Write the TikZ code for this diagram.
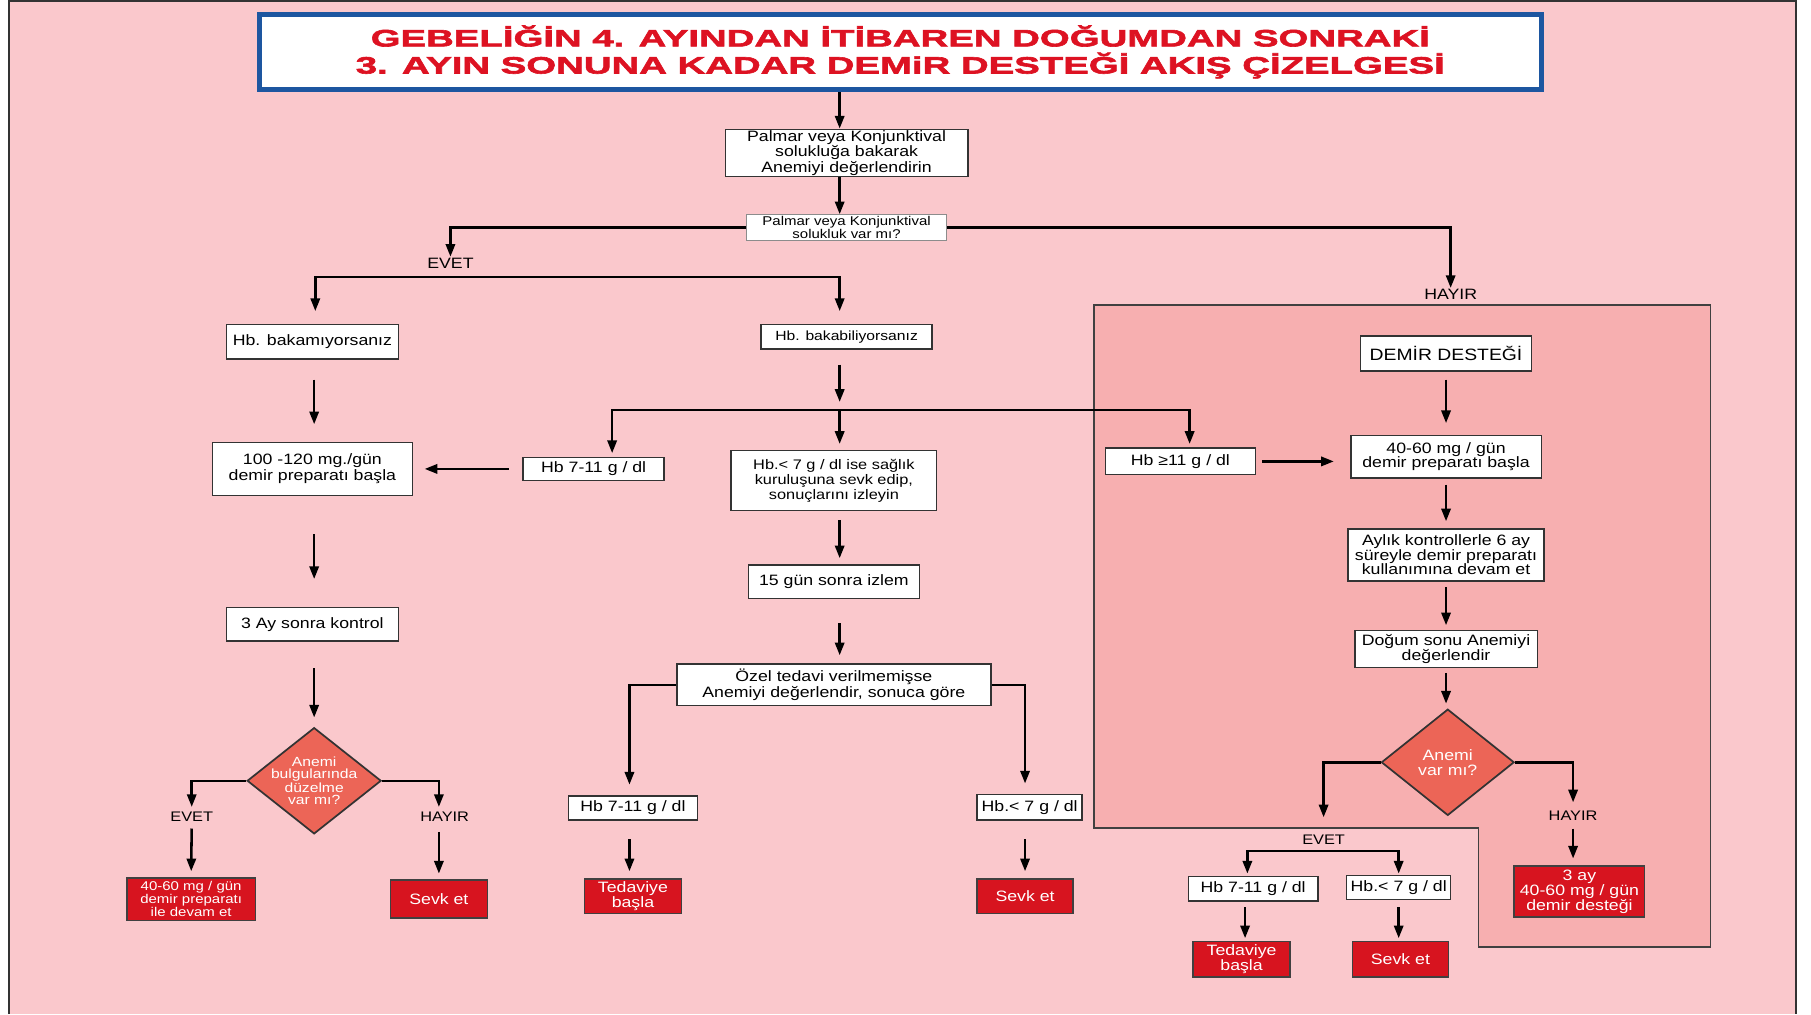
\documentclass[tikz,border=0pt]{standalone}
\usepackage{fontspec}
\setmainfont[FakeStretch=1.18]{Liberation Sans}
\newfontfamily\titlefont[FakeStretch=1.62,FakeBold=2.5]{Liberation Sans Bold}
\usetikzlibrary{positioning,shapes.geometric,arrows.meta}
\definecolor{bgpink}{HTML}{FAC8CC}
\definecolor{zonepink}{HTML}{F7AFB0}
\definecolor{sevkred}{HTML}{D7141F}
\definecolor{askred}{HTML}{EC6557}
\definecolor{titlered}{HTML}{DD1222}
\definecolor{titleblue}{HTML}{1D56A0}
\definecolor{linegray}{HTML}{333333}
\newcommand{\fsz}[2]{\fontsize{#1}{#2}\selectfont}

\begin{document}
\begin{tikzpicture}[x=1pt,y=-1pt,
    >={Triangle[length=11pt,width=8pt]},
    conn/.style={line width=2.2pt,draw=black},
    box/.style={rectangle,draw=linegray,line width=1.3pt,fill=white,align=center,inner sep=1pt,font=\fsz{13}{12.5}},
    redbox/.style={rectangle,draw=black!75,line width=1.3pt,fill=sevkred,text=white,align=center,inner sep=1pt,font=\fsz{13}{12}},
    ask/.style={diamond,aspect=1.25,draw=black!80,line width=1.5pt,fill=askred,text=white,align=center,inner sep=-4pt},
    lbl/.style={font=\fsz{12}{12},inner sep=1pt},
    sz/.style 2 args={minimum width=#1,minimum height=#2}]
   \useasboundingbox (0,0) rectangle (1568,878);
   \fill[white] (0,0) rectangle (1568,878);
   \fill[bgpink] (8,0) rectangle (1555,878);
   \draw[line width=1.5pt,draw=black!80] (8,878) -- (8,0.8) -- (1555,0.8) -- (1555,878);
   \filldraw[fill=zonepink,draw=black!75,line width=1.3pt] (947,264) -- (1481,264) -- (1481,820)
     -- (1280,820) -- (1280,717) -- (947,717) -- cycle;

   \node[rectangle,draw=titleblue,line width=4.5pt,fill=white,sz={1110pt}{65pt},align=center,
     text=titlered,font=\titlefont\fsz{20.5}{23.5}] (title) at (779.5,45)
     {GEBELİĞİN 4. AYINDAN İTİBAREN DOĞUMDAN SONRAKİ\\3. AYIN SONUNA KADAR DEMiR DESTEĞİ AKIŞ ÇİZELGESİ};

   \node[box,sz={210pt}{41pt},font=\fsz{13}{12}] (palmar) at (733,132.5)
     {Palmar veya Konjunktival\\solukluğa bakarak\\Anemiyi değerlendirin};
   \node[box,below of=palmar,node distance=64.5pt,sz={173pt}{22pt},draw=black!45,line width=1pt,
     font=\fsz{11}{9}] (soluk) {Palmar veya Konjunktival\\solukluk var mı?};
   \node[lbl,font=\fsz{13}{13}] (evetA) at (390,228) {EVET};
   \node[lbl,font=\fsz{13}{13}] (hayirA) at (1256,255) {HAYIR};
   \node[box,below of=soluk,node distance=94.5pt,sz={148pt}{21pt},font=\fsz{11.5}{11.5}] (bakabil)
     {Hb. bakabiliyorsanız};

   \node[box,sz={149pt}{30pt}] (bakamiyor) at (270.5,296) {Hb. bakamıyorsanız};
   \node[box,below of=bakamiyor,node distance=110pt,sz={173pt}{46pt},font=\fsz{13}{14}] (basla100)
     {100 -120 mg./gün\\demir preparatı başla};
   \node[box,below of=basla100,node distance=134.5pt,sz={149pt}{29pt}] (kontrol3) {3 Ay sonra kontrol};
   \node[ask,below of=kontrol3,node distance=135.5pt,xshift=1.5pt,sz={116pt}{92pt},font=\fsz{11.5}{10.5}] (askL)
     {Anemi\\bulgularında\\düzelme\\var mı?};
   \node[lbl] (evetL) at (166,707) {EVET};
   \node[lbl] (hayirL) at (385,707) {HAYIR};
   \node[redbox,sz={111pt}{37pt},font=\fsz{11}{10}] (redL) at (165.5,778.5)
     {40-60 mg / gün\\demir preparatı\\ile devam et};
   \node[redbox,sz={84pt}{33pt}] (sevkL) at (380,778.5) {Sevk et};

   \node[box,sz={122pt}{20pt}] (hbA) at (514,406) {Hb 7-11 g / dl};
   \node[box,sz={178pt}{52pt},font=\fsz{12}{13}] (sevk7) at (722,416)
     {Hb.< 7 g / dl ise sağlık\\kuruluşuna sevk edip,\\sonuçlarını izleyin};
   \node[box,below of=sevk7,node distance=87.5pt,sz={148pt}{29pt}] (izlem15) {15 gün sonra izlem};
   \node[box,below of=izlem15,node distance=89.5pt,sz={272pt}{36pt},font=\fsz{13}{12}] (ozel)
     {Özel tedavi verilmemişse\\Anemiyi değerlendir, sonuca göre};
   \node[box,sz={112pt}{21pt}] (hbB) at (548,699.5) {Hb 7-11 g / dl};
   \node[redbox,below of=hbB,node distance=76.5pt,sz={84pt}{30pt}] (tedB) {Tedaviye\\başla};
   \node[box,sz={91pt}{22pt}] (hbC) at (891.5,699) {Hb.< 7 g / dl};
   \node[redbox,sz={83pt}{30pt}] (sevkC) at (887.5,776) {Sevk et};

   \node[box,sz={148pt}{30pt},font=\fsz{14.2}{14}] (demir) at (1252,306) {DEMİR DESTEĞİ};
   \node[box,sz={130pt}{23pt}] (hbD) at (1022,399.5) {Hb ≥11 g / dl};
   \node[box,below of=demir,node distance=89.5pt,sz={165pt}{37pt}] (basla40)
     {40-60 mg / gün\\demir preparatı başla};
   \node[box,below of=basla40,node distance=85pt,sz={170pt}{45pt}] (aylik)
     {Aylık kontrollerle 6 ay\\süreyle demir preparatı\\kullanımına devam et};
   \node[box,below of=aylik,node distance=81.5pt,sz={158pt}{32pt}] (dogum)
     {Doğum sonu Anemiyi\\değerlendir};
   \node[ask,below of=dogum,node distance=98pt,xshift=1.5pt,sz={115pt}{92pt},font=\fsz{13}{13}] (askR)
     {Anemi\\var mı?};
   \node[lbl] (evetR) at (1146,727) {EVET};
   \node[lbl] (hayirR) at (1362,706) {HAYIR};
   \node[redbox,sz={113pt}{44pt},font=\fsz{13}{12}] (red3ay) at (1367.5,772)
     {3 ay\\40-60 mg / gün\\demir desteği};
   \node[box,sz={112pt}{21pt}] (hbE) at (1085,769.5) {Hb 7-11 g / dl};
   \node[box,sz={90pt}{21pt}] (hbF) at (1211,768.5) {Hb.< 7 g / dl};
   \node[redbox,sz={84pt}{31pt}] (tedE) at (1075,830.5) {Tedaviye\\başla};
   \node[redbox,sz={83pt}{31pt}] (sevkE) at (1212.5,830.5) {Sevk et};

   \coordinate (spine) at (727,0);
   \coordinate (splitA) at (500,240);
   \coordinate (splitB) at (780,355);
   \coordinate (splitE) at (1146,737);

   \draw[conn,->] (title.south -| spine) -- (palmar.north -| spine);
   \draw[conn,->] (palmar.south -| spine) -- (soluk.north -| spine);
   \draw[conn,->] (soluk.west) -| (evetA.north);
   \draw[conn,->] (soluk.east) -| (hayirA.north);
   \draw[conn,<->,shorten <=11pt,shorten >=11pt] ([xshift=2.5pt]bakamiyor.north) |- (spine |- splitA)
     -- (bakabil.north -| spine);

   \draw[conn,->,shorten <=17pt,shorten >=15pt] ([xshift=1.5pt]bakamiyor.south) -- ([xshift=1.5pt]basla100.north);
   \draw[conn,->,shorten <=33pt,shorten >=24pt] ([xshift=1.5pt]basla100.south) -- ([xshift=1.5pt]kontrol3.north);
   \draw[conn,->,shorten <=23pt,shorten >=8pt] ([xshift=1.5pt]kontrol3.south) -- (askL.north);
   \draw[conn,->,shorten >=3pt] (askL.west) -| (evetL.north);
   \draw[conn,->,shorten >=3pt] (askL.east) -| (hayirL.north -| sevkL.north);
   \draw[conn,->,shorten <=5pt,shorten >=5pt] (evetL.south) -- (redL.north);
   \draw[conn,->,shorten <=8pt,shorten >=5pt] (hayirL.south -| sevkL.north) -- (sevkL.north);

   \draw[conn,->,shorten <=13pt,shorten >=7pt] (bakabil.south -| spine) -- (spine |- splitB);
   \draw[conn,<->,shorten <=3pt,shorten >=3pt] ([xshift=16pt]hbA.north) |- (splitB) -| ([xshift=8pt]hbD.north);
   \draw[conn,->,shorten >=5pt] (spine |- splitB) -- (sevk7.north -| spine);
   \draw[conn,->,shorten <=12pt,shorten >=10pt] (hbA.west) -- (basla100.east);

   \draw[conn,->,shorten <=8pt,shorten >=5pt] (sevk7.south -| spine) -- (izlem15.north -| spine);
   \draw[conn,->,shorten <=21pt,shorten >=7pt] (izlem15.south -| spine) -- (ozel.north -| spine);
   \draw[conn,->,shorten >=9pt] (ozel.west) -| ([xshift=-3pt]hbB.north);
   \draw[conn,->,shorten >=9pt] (ozel.east) -| ([xshift=-4pt]hbC.north);
   \draw[conn,->,shorten <=16pt,shorten >=6pt] ([xshift=-3pt]hbB.south) -- ([xshift=-3pt]tedB.north);
   \draw[conn,->,shorten <=16pt,shorten >=6pt] ([xshift=-4pt]hbC.south) -- (sevkC.north);

   \draw[conn,->,shorten <=7pt,shorten >=10pt] (demir.south) -- (basla40.north);
   \draw[conn,->,shorten <=5pt,shorten >=14pt] (hbD.east) -- (hbD.east -| basla40.west);
   \draw[conn,->,shorten <=5pt,shorten >=6pt] (basla40.south) -- (aylik.north);
   \draw[conn,->,shorten <=5pt,shorten >=4pt] (aylik.south) -- (dogum.north);
   \draw[conn,->,shorten <=4pt,shorten >=4pt] (dogum.south) -- ([xshift=-1.5pt]askR.north);
   \draw[conn,->,shorten >=14pt] (askR.west) -| (evetR.north);
   \draw[conn,->,shorten >=6pt] (askR.east) -| (hayirR.north);
   \draw[conn,->,shorten <=6pt,shorten >=6pt] (hayirR.south) -- (red3ay.north -| hayirR);
   \draw[conn,<->,shorten <=2pt,shorten >=1pt] ([xshift=-5pt]hbE.north) |- (splitE) -| (hbF.north);
   \draw[conn,->,shorten <=5pt,shorten >=2pt] ([xshift=-7pt]hbE.south) -- ([xshift=3pt]tedE.north);
   \draw[conn,->,shorten <=6pt,shorten >=2pt] (hbF.south) -- (hbF.south |- sevkE.north);
\end{tikzpicture}
\end{document}
